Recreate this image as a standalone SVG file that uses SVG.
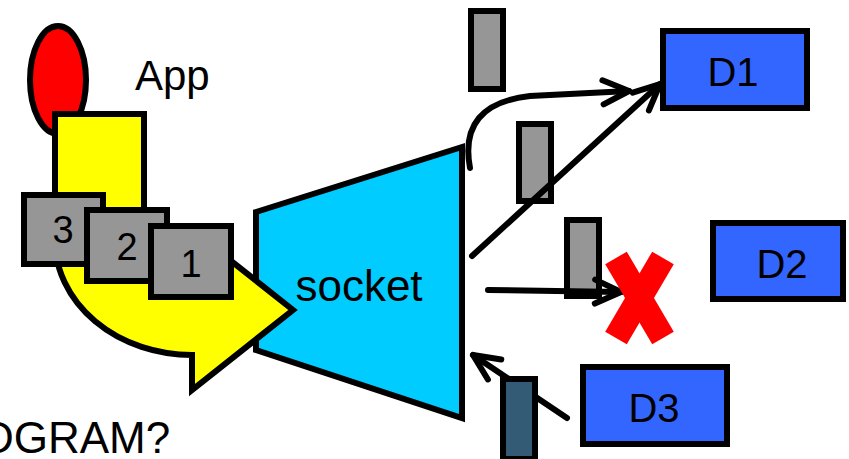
<svg xmlns="http://www.w3.org/2000/svg" width="849" height="459" viewBox="0 0 849 459">
  <style>
    .edge { stroke: #000; stroke-width: 6; }
    .pkt { fill: #969696; stroke: #000; stroke-width: 6; }
    .dest { fill: #3366FF; stroke: #000; stroke-width: 6; }
    .lbl { font-family: "Liberation Sans", Arial, sans-serif; fill: #000; }
    .wire { fill: none; stroke: #000; stroke-width: 6; stroke-linecap: round; }
  </style>
  <defs>
    <marker id="chev" markerUnits="userSpaceOnUse" viewBox="-34 -18 40 36" refX="0" refY="0" markerWidth="40" markerHeight="36" orient="auto" overflow="visible">
      <path d="M-26,-12 L0,0 L-26,12" fill="none" stroke="#000" stroke-width="6" stroke-linecap="round" stroke-linejoin="round"/>
    </marker>
  </defs>

  <rect width="849" height="459" fill="#fff"/>

  <!-- socket -->
  <g id="socket">
    <polygon points="256,212 462,147 462,418 256,350" fill="#00CCFF" class="edge" stroke-linejoin="miter"/>
    <text x="359" y="301" class="lbl" font-size="44" text-anchor="middle">socket</text>
  </g>

  <!-- application -->
  <g id="app">
    <ellipse cx="58" cy="80" rx="28" ry="54" fill="#FF0000" class="edge"/>
    <path d="M55,114 H144 V240 A48,26 0 0 0 192,266 V230 L293,310 L192,390 V355 A137,115 0 0 1 55,240 Z" fill="#FFFF00" class="edge"/>
    <text x="135" y="90" class="lbl" font-size="42">App</text>
  </g>

  <!-- queued packets -->
  <g id="pkt3">
    <rect x="24" y="195" width="79" height="69" class="pkt"/>
    <text x="63" y="243" class="lbl" font-size="38" text-anchor="middle">3</text>
  </g>
  <g id="pkt2">
    <rect x="87" y="210" width="80" height="71" class="pkt"/>
    <text x="127" y="260" class="lbl" font-size="38" text-anchor="middle">2</text>
  </g>
  <g id="pkt1">
    <rect x="151" y="226" width="80" height="71" class="pkt"/>
    <text x="191" y="277" class="lbl" font-size="38" text-anchor="middle">1</text>
  </g>

  <!-- packets in flight -->
  <g id="flight-a"><rect x="471" y="11" width="32" height="78" class="pkt"/></g>
  <g id="flight-b"><rect x="519" y="124" width="32" height="77" class="pkt"/></g>
  <g id="flight-c"><rect x="567" y="220" width="32" height="76" class="pkt"/></g>

  <!-- destinations -->
  <g id="D1">
    <rect x="663" y="31" width="144" height="77" class="dest"/>
    <text x="733" y="86" class="lbl" font-size="40" text-anchor="middle">D1</text>
  </g>
  <g id="D2">
    <rect x="713" y="223" width="130" height="76" class="dest"/>
    <text x="782" y="278" class="lbl" font-size="40" text-anchor="middle">D2</text>
  </g>
  <g id="D3">
    <rect x="583" y="367" width="144" height="77" class="dest"/>
    <text x="654" y="422" class="lbl" font-size="40" text-anchor="middle">D3</text>
  </g>

  <!-- connectors -->
  <g id="connectors">
    <path d="M470,168 Q458,104 530,96 L629,91" class="wire" marker-end="url(#chev)"/>
    <path d="M472,256 L660,84" class="wire" marker-end="url(#chev)"/>
    <path d="M488,290 L621,292" class="wire" marker-end="url(#chev)"/>
    <path d="M567,418 L473,355" class="wire" marker-end="url(#chev)"/>
  </g>

  <!-- incoming packet from D3 -->
  <g id="incoming"><rect x="503" y="379" width="32" height="80" fill="#335B75" class="edge"/></g>

  <!-- dropped delivery -->
  <g id="drop">
    <line x1="616" y1="258" x2="663" y2="338" stroke="#FF0000" stroke-width="25"/>
    <line x1="663" y1="258" x2="616" y2="338" stroke="#FF0000" stroke-width="25"/>
  </g>

  <text x="-18" y="453" class="lbl" font-size="44">DGRAM?</text>
</svg>
